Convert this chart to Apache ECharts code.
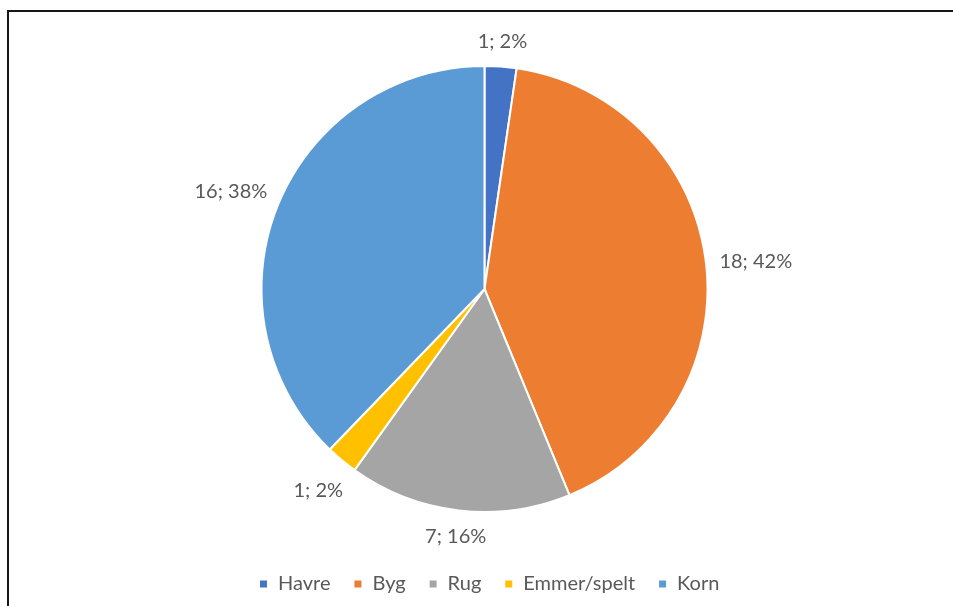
<!DOCTYPE html>
<html>
<head>
<meta charset="utf-8">
<title>Korn</title>
<script src="https://cdn.jsdelivr.net/npm/echarts@6/dist/echarts.min.js"></script>
<style>
  html, body { margin: 0; padding: 0; background: #ffffff; }
  #chart { position: absolute; left: 0; top: 0; width: 953px; height: 606px; }
  #frame {
    position: absolute; left: 7px; top: 10px; width: 960px; height: 610px;
    border-top: 2px solid #161616; border-left: 2px solid #161616;
    pointer-events: none; box-sizing: border-box;
  }
</style>
</head>
<body>
<div id="chart"></div>
<div id="frame"></div>
<script>
// Grain types and their counts
const categories = ['Havre', 'Byg', 'Rug', 'Emmer/spelt', 'Korn'];
const counts = [1, 18, 7, 1, 16.4];
const sliceColors = ['#4472C4', '#ED7D31', '#A5A5A5', '#FFC000', '#5B9BD5'];

// Pie geometry (pixels)
const CX = 484.5, CY = 289, R = 223, LABEL_GAP = 13;
const FONT = 'Lato, "Open Sans", sans-serif';

const total = counts.reduce((a, b) => a + b, 0);

const chart = echarts.init(document.getElementById('chart'), null, { renderer: 'canvas' });

chart.setOption({
  animation: false,
  backgroundColor: '#ffffff',
  legend: {
    bottom: 7,
    left: 253,
    icon: 'rect',
    itemWidth: 9,
    itemHeight: 9,
    itemGap: 22,
    textStyle: { fontFamily: FONT, fontSize: 20, color: '#595959', padding: [0, 0, 0, 5] },
    data: categories
  },
  series: [{
    type: 'pie',
    center: [CX, CY],
    radius: R,
    startAngle: 90,
    clockwise: true,
    percentPrecision: 0,
    avoidLabelOverlap: false,
    itemStyle: { borderColor: '#ffffff', borderWidth: 2 },
    label: {
      show: true,
      position: 'outside',
      fontFamily: FONT,
      fontSize: 20,
      color: '#595959',
      formatter: p => Math.round(p.value) + '; ' + p.percent + '%'
    },
    labelLine: { show: false },
    // Place each label just outside the rim along its slice's mid-angle
    labelLayout: function (params) {
      const i = params.dataIndex;
      let before = 0;
      for (let j = 0; j < i; j++) before += counts[j];
      const mid = (before + counts[i] / 2) / total * Math.PI * 2;
      const ux = Math.sin(mid), uy = -Math.cos(mid);
      const w = params.labelRect.width, h = params.labelRect.height;
      const d = R + LABEL_GAP + (w / 2) * Math.abs(ux) + (h / 2) * Math.abs(uy);
      return { x: CX + d * ux, y: CY + d * uy + 6 * ux * ux, align: 'center', verticalAlign: 'middle' };
    },
    data: categories.map((name, i) => ({
      name: name,
      value: counts[i],
      itemStyle: { color: sliceColors[i] }
    }))
  }]
});
</script>
</body>
</html>
